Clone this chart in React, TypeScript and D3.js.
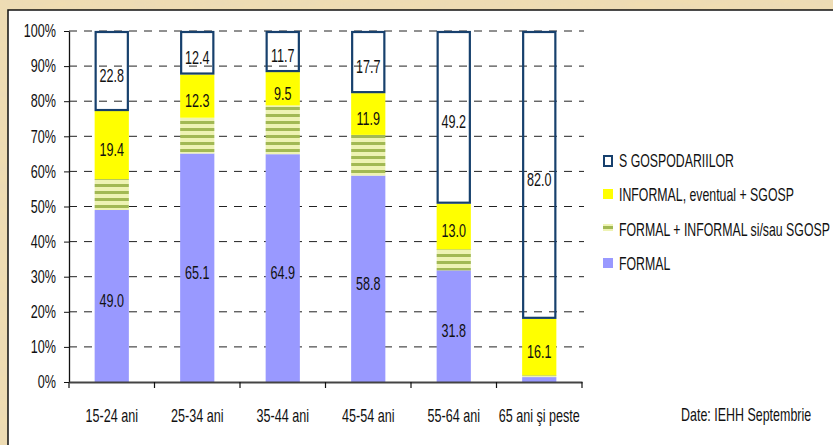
import React, { useEffect, useRef } from 'react';
import * as d3 from 'd3';

const categories = ['15-24 ani', '25-34 ani', '35-44 ani', '45-54 ani', '55-64 ani', '65 ani şi peste'];
const formal = [49.0, 65.1, 64.9, 58.8, 31.8, 1.4];
const mixed = [8.8, 10.2, 13.9, 11.6, 6.0, 0.5];
const informal = [19.4, 12.3, 9.5, 11.9, 13.0, 16.1];
const sgosp = [22.8, 12.4, 11.7, 17.7, 49.2, 82.0];
const yTicks = [0, 10, 20, 30, 40, 50, 60, 70, 80, 90, 100];
const legendLabels = ['S GOSPODARIILOR', 'INFORMAL, eventual + SGOSP', 'FORMAL + INFORMAL si/sau SGOSP', 'FORMAL'];

const FONT = '"Liberation Sans", Arial, sans-serif';
const NARROW = 0.7; // fake Arial Narrow by squeezing the text

export default function App() {
  const ref = useRef<SVGSVGElement>(null);

  useEffect(() => {
    const svg = d3.select(ref.current);
    svg.selectAll('*').remove();
    const W = 833, H = 445;
    const margin = { left: 69, right: 582, top: 31, bottom: 382 };

    // narrow text helper
    const ntext = (parent: any, px: number, py: number, t: string, size: number, anchor = 'start') =>
      parent.append('text')
        .attr('transform', `translate(${px},${py}) scale(${NARROW},1)`)
        .attr('text-anchor', anchor).attr('dominant-baseline', 'middle')
        .attr('font-family', FONT).attr('font-size', size).attr('fill', '#111').text(t);

    const defs = svg.append('defs');
    const filt = defs.append('filter').attr('id', 'paper').attr('x', 0).attr('y', 0).attr('width', '100%').attr('height', '100%');
    filt.append('feTurbulence').attr('type', 'fractalNoise').attr('baseFrequency', '0.03 0.12').attr('numOctaves', 3).attr('seed', 4);
    filt.append('feColorMatrix').attr('type', 'matrix')
      .attr('values', '0 0 0 0 0.82  0 0 0 0 0.70  0 0 0 0 0.48  0 0 0 -0.9 0.75');
    filt.append('feComposite').attr('in2', 'SourceGraphic').attr('operator', 'in');

    const pat = defs.append('pattern').attr('id', 'stripes').attr('patternUnits', 'userSpaceOnUse')
      .attr('width', 8).attr('height', 7);
    pat.append('rect').attr('width', 8).attr('height', 7).attr('fill', '#eef3b4');
    pat.append('rect').attr('y', 2).attr('width', 8).attr('height', 3).attr('fill', '#a2b954');

    // parchment background
    svg.append('rect').attr('width', W).attr('height', H).attr('fill', '#f0ddb1');
    svg.append('rect').attr('width', W).attr('height', H).attr('fill', '#f0ddb1').attr('filter', 'url(#paper)');

    // white chart area
    svg.append('rect').attr('x', 8).attr('y', 10).attr('width', W).attr('height', H)
      .attr('fill', '#fff').attr('stroke', '#111').attr('stroke-width', 1.5);

    const x = d3.scaleBand().domain(categories).range([margin.left, margin.right])
      .paddingInner(0.6).paddingOuter(0.3);
    const y = d3.scaleLinear().domain([0, 100]).range([margin.bottom, margin.top]);

    // gridlines
    svg.append('g').selectAll('line').data(yTicks.filter(t => t > 0)).join('line')
      .attr('x1', margin.left).attr('x2', margin.right + 2)
      .attr('y1', d => y(d)).attr('y2', d => y(d))
      .attr('stroke', '#222').attr('stroke-width', 1).attr('stroke-dasharray', '8,7');

    const rows = categories.map((c, i) => ({ cat: c, formal: formal[i], mixed: mixed[i], informal: informal[i], sgosp: sgosp[i] }));
    const keys = ['formal', 'mixed', 'informal', 'sgosp'];
    const series = d3.stack<any>().keys(keys)(rows);
    const fills: Record<string, string> = { formal: '#9999ff', mixed: 'url(#stripes)', informal: '#ffff00', sgosp: 'none' };

    series.forEach(s => {
      const g = svg.append('g');
      const inset = s.key === 'sgosp' ? 1 : 0;
      g.selectAll('rect').data(s).join('rect')
        .attr('x', d => x(d.data.cat)! + inset)
        .attr('width', x.bandwidth() - 2 * inset)
        .attr('y', d => y(d[1]) + inset)
        .attr('height', d => y(d[0]) - y(d[1]) - 2 * inset)
        .attr('fill', fills[s.key])
        .attr('stroke', s.key === 'sgosp' ? '#17406d' : 'none')
        .attr('stroke-width', 2.2);
      if (s.key !== 'mixed') {
        s.filter(d => d[1] - d[0] >= 5).forEach(d => {
          ntext(g, x(d.data.cat)! + x.bandwidth() / 2, y((d[0] + d[1]) / 2) + 6,
            (d[1] - d[0]).toFixed(1), 18, 'middle');
        });
      }
    });

    // y axis
    const ya = svg.append('g').attr('transform', `translate(${margin.left},0)`)
      .call(d3.axisLeft(y).tickValues(yTicks).tickSize(5).tickSizeOuter(0).tickFormat(d => `${d}%`));
    ya.select('.domain').attr('stroke', '#111').attr('stroke-width', 1.3);
    ya.selectAll('.tick line').attr('stroke', '#111');
    ya.selectAll('.tick text').attr('font-family', FONT).attr('font-size', 18).attr('fill', '#111')
      .attr('x', -13 / NARROW).attr('transform', `scale(${NARROW},1)`);

    // x axis
    const xa = svg.append('g').attr('transform', `translate(0,${margin.bottom})`)
      .call(d3.axisBottom(x).tickSize(0).tickPadding(27));
    xa.select('.domain').attr('stroke', '#444').attr('stroke-width', 1.8);
    xa.selectAll('.tick text').attr('font-family', FONT).attr('font-size', 18).attr('fill', '#111')
      .attr('transform', `scale(${NARROW},1)`);
    const step = x.step();
    svg.append('g').selectAll('line').data(d3.range(categories.length + 1)).join('line')
      .attr('x1', i => margin.left + i * step).attr('x2', i => margin.left + i * step)
      .attr('y1', margin.bottom).attr('y2', margin.bottom + 6)
      .attr('stroke', '#111').attr('stroke-width', 1.2);

    // legend
    const lg = svg.append('g').attr('transform', 'translate(603,0)');
    const ly = [162, 196, 231, 265];
    legendLabels.forEach((t, i) => {
      const cy = ly[i];
      if (i === 0) {
        lg.append('rect').attr('x', 1).attr('y', cy - 6).attr('width', 8).attr('height', 10)
          .attr('fill', 'none').attr('stroke', '#17406d').attr('stroke-width', 2);
      } else if (i === 1) {
        lg.append('rect').attr('x', 0).attr('y', cy - 7).attr('width', 10).attr('height', 10).attr('fill', '#ffff00');
      } else if (i === 2) {
        lg.append('rect').attr('x', 0).attr('y', cy - 7).attr('width', 10).attr('height', 7).attr('fill', '#eef3b4');
        lg.append('rect').attr('x', 0).attr('y', cy - 5).attr('width', 10).attr('height', 3).attr('fill', '#a2b954');
      } else {
        lg.append('rect').attr('x', 0).attr('y', cy - 7).attr('width', 10).attr('height', 10).attr('fill', '#9999ff');
      }
      ntext(lg, 16, cy, t, 17.6);
    });

    ntext(svg, 681, 416, 'Date: IEHH Septembrie', 17.8);
  }, []);

  return <svg ref={ref} width={833} height={445} style={{ position: 'absolute', left: 0, top: 0 }} />;
}
